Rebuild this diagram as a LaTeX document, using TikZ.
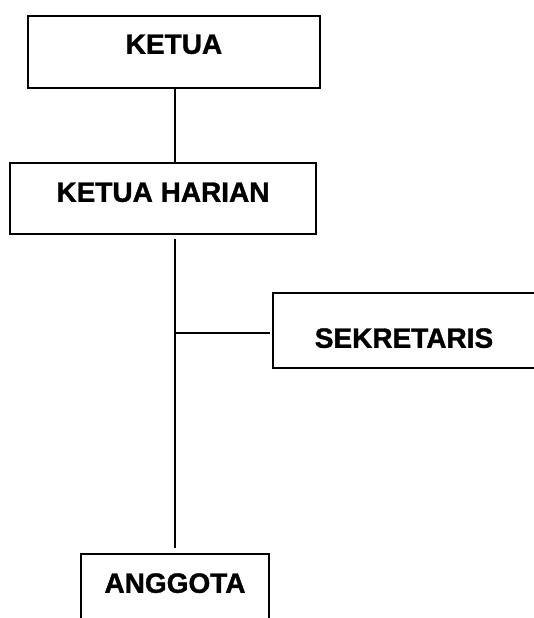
\documentclass[tikz,border=0pt]{standalone}
\usepackage{fontspec}
\setmainfont{Liberation Sans}
\newfontfamily\heavyfont[FakeBold=1.2]{Liberation Sans Bold}
\begin{document}
\begin{tikzpicture}[x=1pt,y=1pt,
  orgbox/.style={draw, line width=1.6pt, inner sep=0pt, anchor=north,
    font=\heavyfont\fontsize{28}{30}\selectfont},
  link/.style={line width=1.6pt}]
\useasboundingbox (0,0) rectangle (534,-618);
\clip (0,0) rectangle (534,-618);
\node[orgbox, minimum width=292pt, text height=38pt, text depth=34pt] (ketua) at (174,-15) {KETUA};
\node[orgbox, minimum width=306pt, text height=39pt, text depth=32pt] (kh) at (163,-162) {KETUA HARIAN};
\node[orgbox, minimum width=262pt, text height=55pt, text depth=20pt] (sek) at (404,-292) {SEKRETARIS};
\node[orgbox, minimum width=188pt, text height=39pt, text depth=40pt] (ang) at (175,-553) {ANGGOTA};
\coordinate (top) at ([xshift=1pt]ketua.south);
\coordinate (sw) at ([xshift=-2pt,yshift=-2.5pt]sek.west);
\coordinate (j) at (top |- sw);
\draw[link] (top) -- (top |- kh.north);
\draw[link] ([yshift=-4pt]top |- kh.south) -- ([yshift=5pt]top |- ang.north);
\draw[link] (j) -- (sw);
\end{tikzpicture}
\end{document}
